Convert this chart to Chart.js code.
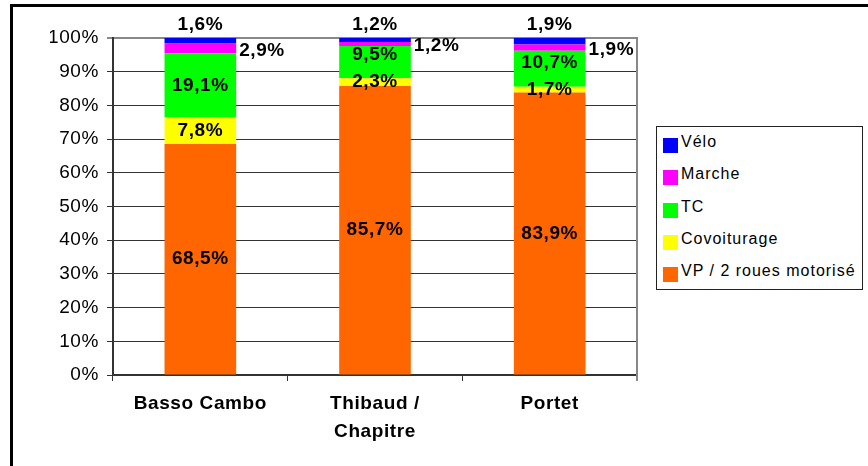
<!DOCTYPE html>
<html>
<head>
<meta charset="utf-8">
<script src="https://cdn.jsdelivr.net/npm/chart.js@4"></script>
<style>
  body { margin: 0; background: #fff; }
  #wrap { position: relative; width: 868px; height: 466px; overflow: hidden; }
  #frame { position: absolute; left: 10px; top: 4px; width: 900px; height: 500px; border: 3px solid #000; }
  #chart { position: absolute; left: 0; top: 0; }
  #legend {
    position: absolute; left: 656px; top: 126px; width: 205px; height: 162px;
    border: 1px solid #222; background: #fff;
    font: 16px Arial, "Liberation Sans", sans-serif; letter-spacing: 1px; color: #000;
  }
  .item { position: absolute; left: 6px; height: 16px; white-space: nowrap; }
  .sw { position: absolute; left: 0; top: 0; width: 15px; height: 15px; }
  .txt { position: absolute; left: 18px; top: -6px; line-height: 20px; }
</style>
</head>
<body>
<div id="wrap">
  <div id="frame"></div>
  <canvas id="chart" width="868" height="466"></canvas>
  <div id="legend"></div>
</div>
<script>
// --- data ---
const categories = ['Basso Cambo', ['Thibaud /', 'Chapitre'], 'Portet'];
const seriesNames = ['VP / 2 roues motorisé', 'Covoiturage', 'TC', 'Marche', 'Vélo'];
const seriesColors = ['#FF6600', '#FFFF00', '#00FF00', '#FF00FF', '#0000FF'];
const vpValues = [68.5, 85.7, 83.9];
const covoitValues = [7.8, 2.3, 1.7];
const tcValues = [19.1, 9.5, 10.7];
const marcheValues = [2.9, 1.2, 1.9];
const veloValues = [1.6, 1.2, 1.9];
const labelPlaces = ['center', 'center', 'center', 'right', 'above'];

const allSeries = [vpValues, covoitValues, tcValues, marcheValues, veloValues];

// 100% stacked: share of each category total
const totals = categories.map((c, j) => allSeries.reduce((s, arr) => s + arr[j], 0));

function fmt(v) {
    return v.toFixed(1).replace('.', ',') + '%';
}

//--- labels on the bars ---//
const segLabels = {
    id: 'segLabels',
    beforeDraw(chart) {
        chart.ctx.letterSpacing = '0.6px';
    },
    afterDatasetsDraw(chart) {
        const ctx = chart.ctx;
        ctx.save();
        ctx.font = 'bold 19px Arial, "Liberation Sans", sans-serif';
        ctx.letterSpacing = '0.6px';
        ctx.fillStyle = '#000';
        ctx.textBaseline = 'middle';
        const centers = [];
        chart.data.datasets.forEach((ds, i) => {
            const meta = chart.getDatasetMeta(i);
            centers[i] = [];
            meta.data.forEach((bar, j) => {
                const text = fmt(ds.rawValues[j]);
                const mid = (bar.y + bar.base) / 2;
                if (ds.labelPlace === 'above') {
                    ctx.textAlign = 'center';
                    ctx.fillText(text, bar.x, bar.y - 13);
                } else if (ds.labelPlace === 'right') {
                    ctx.textAlign = 'left';
                    ctx.fillText(text, bar.x + bar.width / 2 + 3, mid + 2);
                } else {
                    let y = mid;
                    // keep clear of the label below
                    if (i > 0 && centers[i - 1][j] !== undefined) {
                        y = Math.min(y, centers[i - 1][j] - 27);
                    }
                    centers[i][j] = y;
                    ctx.textAlign = 'center';
                    ctx.fillText(text, bar.x, y);
                }
            });
        });
        ctx.restore();
    },
    afterDraw(chart) {
        // grey right border of the plot area
        const a = chart.chartArea;
        const ctx = chart.ctx;
        ctx.save();
        ctx.strokeStyle = '#888';
        ctx.lineWidth = 2;
        ctx.beginPath();
        ctx.moveTo(a.right, a.top - 1);
        ctx.lineTo(a.right, a.bottom + 6);
        ctx.stroke();
        ctx.restore();
    }
};

//--- chart ---//
const datasets = allSeries.map((arr, i) => ({
    label: seriesNames[i],
    data: arr.map((v, j) => v / totals[j] * 100),
    rawValues: arr,
    labelPlace: labelPlaces[i],
    backgroundColor: seriesColors[i],
    borderWidth: 0,
    barPercentage: 0.41,
    categoryPercentage: 1
}));

new Chart(document.getElementById('chart'), {
    type: 'bar',
    data: { labels: categories, datasets: datasets },
    options: {
        responsive: false,
        animation: false,
        layout: { padding: { left: 50, right: 231, top: 38, bottom: 0 } },
        plugins: {
            legend: { display: false },
            tooltip: { enabled: false }
        },
        scales: {
            x: {
                stacked: true,
                afterFit: s => { s.height = 91; },
                grid: { offset: true, drawOnChartArea: false, drawTicks: true, tickLength: 6, color: '#333', lineWidth: 1 },
                border: { color: '#333', width: 2 },
                ticks: {
                    color: '#000',
                    padding: 9,
                    maxRotation: 0,
                    autoSkip: false,
                    font: { family: 'Arial, "Liberation Sans", sans-serif', size: 19, weight: 'bold', lineHeight: '28px' }
                }
            },
            y: {
                stacked: true,
                min: 0,
                max: 100,
                afterFit: s => { s.width = 63; },
                grid: {
                    tickLength: 6,
                    color: c => c.tick && c.tick.value === 100 ? '#888' : '#333',
                    lineWidth: c => c.tick && c.tick.value === 100 ? 2 : 1
                },
                border: { color: '#333', width: 2 },
                ticks: {
                    stepSize: 10,
                    padding: 8,
                    color: '#000',
                    font: { family: 'Arial, "Liberation Sans", sans-serif', size: 19 },
                    callback: v => v + '%'
                }
            }
        }
    },
    plugins: [segLabels]
});

//--- legend ---//
const legend = document.getElementById('legend');
const order = [4, 3, 2, 1, 0];
order.forEach((k, n) => {
    const item = document.createElement('div');
    item.className = 'item';
    item.style.top = (11 + n * 32.3) + 'px';
    item.innerHTML = `<span class="sw" style="background:${seriesColors[k]}"></span><span class="txt">${seriesNames[k]}</span>`;
    legend.appendChild(item);
});
</script>
</body>
</html>
